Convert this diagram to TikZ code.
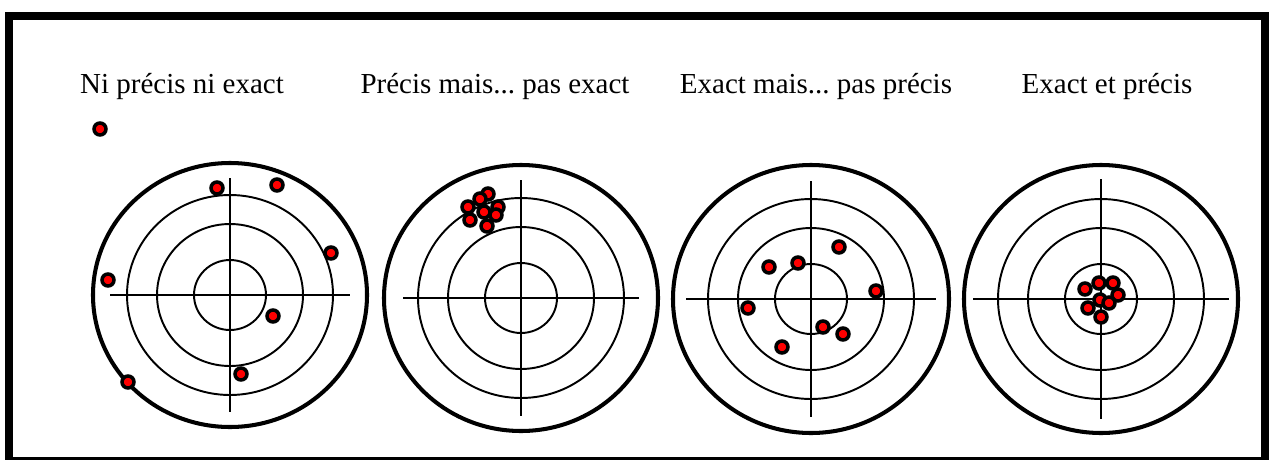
\documentclass[tikz,border=0pt]{standalone}
\usepackage{fontspec}
\setmainfont{Liberation Serif}
\usepackage{xcolor}
\usepackage{tikz}
\frenchspacing
\tikzset{
  frame/.style={draw=black, line width=4pt},
  outer/.style={draw=black, line width=2.3pt},
  ring/.style={draw=black, line width=1.1pt},
  cross/.style={draw=black, line width=1.1pt},
  hit/.style={circle, draw=black, fill=red, line width=2pt,
              minimum size=0.24cm, inner sep=0pt},
  title/.style={anchor=base, inner sep=0pt, font=\fontsize{16.5}{18}\selectfont},
}
\begin{document}
\begin{tikzpicture}[x=0.02cm, y=-0.02cm]
  \useasboundingbox (0,0) rectangle (1269,460);
  \fill[white] (0,0) rectangle (1269,460);
  \draw[frame] (9,16) rectangle (1265,461);

  % Titles
  \node[title] (ttl1) at (182,93)  {Ni précis ni exact};
  \node[title] (ttl2) at (495,93)  {Précis mais... pas exact};
  \node[title] (ttl3) at (816,93)  {Exact mais... pas précis};
  \node[title] (ttl4) at (1107,93) {Exact et précis};

  % Target centres
  \coordinate (t1) at (230,295);
  \coordinate (t2) at (521,298);
  \coordinate (t3) at (811,299);
  \coordinate (t4) at (1101,299);

  % Target 1
  \draw[outer] (t1) ellipse [x radius=137, y radius=132];
  \draw[ring]  (t1) ellipse [x radius=103, y radius=100];
  \draw[ring]  (t1) ellipse [x radius=73, y radius=71];
  \draw[ring]  (t1) ellipse [x radius=36, y radius=35];
  \draw[cross] (t1) ++(-120,0) -- ++(240,0);
  \draw[cross] (t1) ++(0,-117) -- ++(0,234);

  % Target 2
  \draw[outer] (t2) ellipse [x radius=137, y radius=133];
  \draw[ring]  (t2) ellipse [x radius=103, y radius=100];
  \draw[ring]  (t2) ellipse [x radius=73, y radius=71];
  \draw[ring]  (t2) ellipse [x radius=36, y radius=35];
  \draw[cross] (t2) ++(-118,0) -- ++(236,0);
  \draw[cross] (t2) ++(0,-118) -- ++(0,236);

  % Target 3
  \draw[outer] (t3) ellipse [x radius=138, y radius=134];
  \draw[ring]  (t3) ellipse [x radius=103, y radius=100];
  \draw[ring]  (t3) ellipse [x radius=73, y radius=71];
  \draw[ring]  (t3) ellipse [x radius=36, y radius=35];
  \draw[cross] (t3) ++(-125,0) -- ++(250,0);
  \draw[cross] (t3) ++(0,-118) -- ++(0,236);

  % Target 4
  \draw[outer] (t4) ellipse [x radius=137, y radius=134];
  \draw[ring]  (t4) ellipse [x radius=103, y radius=100];
  \draw[ring]  (t4) ellipse [x radius=73, y radius=71];
  \draw[ring]  (t4) ellipse [x radius=36, y radius=35];
  \draw[cross] (t4) ++(-128,0) -- ++(256,0);
  \draw[cross] (t4) ++(0,-120) -- ++(0,240);

  % Hits: ni precis ni exact
  \node[hit] (a1) at (100,129) {};
  \node[hit] (a2) at (217,188) {};
  \node[hit] (a3) at (277,185) {};
  \node[hit] (a4) at (331,253) {};
  \node[hit] (a5) at (108,280) {};
  \node[hit] (a6) at (273,316) {};
  \node[hit] (a7) at (241,374) {};
  \node[hit] (a8) at (128,382) {};

  % Hits: precis mais pas exact
  \node[hit] (b1) at (488,194) {};
  \node[hit] (b2) at (480,199) {};
  \node[hit] (b3) at (468,207) {};
  \node[hit] (b4) at (498,207) {};
  \node[hit] (b5) at (470,220) {};
  \node[hit] (b6) at (496,215) {};
  \node[hit] (b7) at (487,226) {};
  \node[hit] (b8) at (484,212) {};

  % Hits: exact mais pas precis
  \node[hit] (c1) at (839,247) {};
  \node[hit] (c2) at (769,267) {};
  \node[hit] (c3) at (798,263) {};
  \node[hit] (c4) at (876,291) {};
  \node[hit] (c5) at (748,308) {};
  \node[hit] (c6) at (823,327) {};
  \node[hit] (c7) at (843,334) {};
  \node[hit] (c8) at (782,347) {};

  % Hits: exact et precis
  \node[hit] (d1) at (1085,289) {};
  \node[hit] (d2) at (1099,283) {};
  \node[hit] (d3) at (1113,283) {};
  \node[hit] (d4) at (1118,295) {};
  \node[hit] (d5) at (1100,300) {};
  \node[hit] (d6) at (1109,303) {};
  \node[hit] (d7) at (1088,308) {};
  \node[hit] (d8) at (1101,317) {};

\end{tikzpicture}
\end{document}
